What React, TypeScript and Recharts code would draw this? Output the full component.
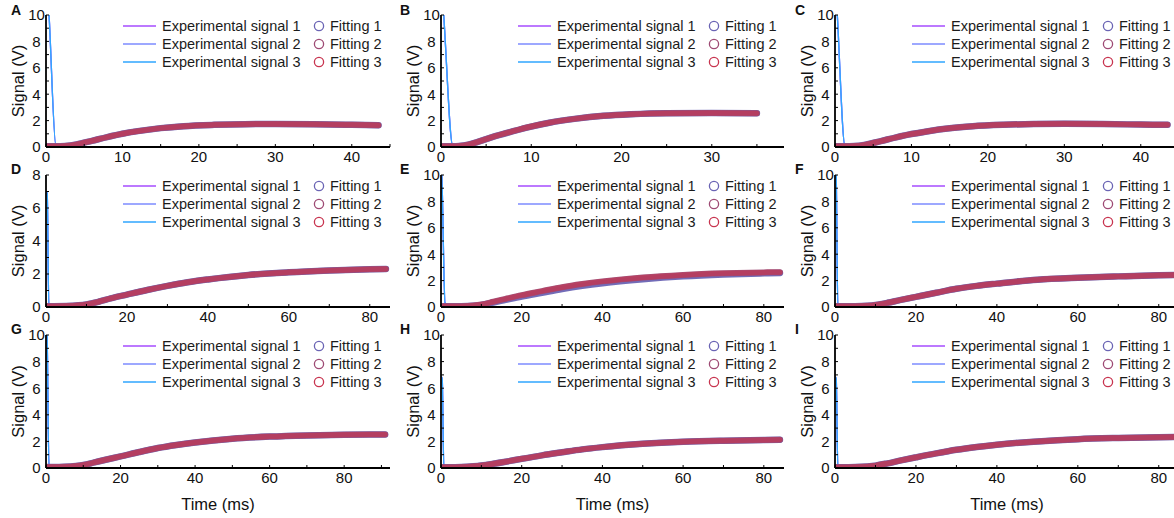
import React from 'react';
import { LineChart, Line, XAxis, YAxis, Legend } from 'recharts';

const FONT = '"Liberation Sans", Arial, Helvetica, sans-serif';

// ---------- data ----------
// Panel A
const timeA = [0, 0.4, 1.3, 2.5, 4, 6, 8, 10, 12, 15, 18, 22, 26, 30, 35, 40, 43.5];
const expA = [14, 10, 0.1, 0.07, 0.2, 0.47, 0.75, 1.0, 1.2, 1.43, 1.58, 1.68, 1.73, 1.74, 1.72, 1.68, 1.65];
const fitA = [0.05, 0.05, 0.05, 0.08, 0.2, 0.47, 0.75, 1.0, 1.2, 1.43, 1.58, 1.68, 1.73, 1.74, 1.72, 1.68, 1.65];
// Panel B
const timeB = [0, 0.3, 1.3, 2, 3, 4, 5, 6, 8, 10, 12, 15, 18, 21, 25, 30, 35];
const expB = [13, 10, 0.1, 0.07, 0.17, 0.37, 0.6, 0.82, 1.2, 1.55, 1.84, 2.15, 2.36, 2.48, 2.56, 2.57, 2.55];
const fitB = [0.05, 0.05, 0.05, 0.07, 0.17, 0.37, 0.6, 0.82, 1.2, 1.55, 1.84, 2.15, 2.36, 2.48, 2.56, 2.57, 2.55];
// Panel C
const timeC = [0, 0.3, 1.3, 2.5, 4, 6, 8, 10, 12, 15, 18, 22, 26, 30, 35, 40, 43.5];
const expC = [13, 10, 0.1, 0.07, 0.18, 0.45, 0.73, 0.98, 1.18, 1.42, 1.57, 1.68, 1.74, 1.76, 1.74, 1.7, 1.68];
const fitC = [0.05, 0.05, 0.05, 0.07, 0.18, 0.45, 0.73, 0.98, 1.18, 1.42, 1.57, 1.68, 1.74, 1.76, 1.74, 1.7, 1.68];
// Panel D
const timeD = [0, 0.3, 0.7, 2, 5, 8, 10, 13, 16, 20, 25, 30, 35, 40, 50, 60, 70, 80, 84];
const expD = [7.0, 6.9, 0.1, 0.05, 0.06, 0.1, 0.16, 0.32, 0.52, 0.75, 1.03, 1.28, 1.5, 1.67, 1.94, 2.1, 2.21, 2.29, 2.31];
const fitD = [0.05, 0.05, 0.05, 0.05, 0.06, 0.1, 0.16, 0.32, 0.52, 0.75, 1.03, 1.28, 1.5, 1.67, 1.94, 2.1, 2.21, 2.29, 2.31];
// Panel E
const timeE = [0, 0.3, 1, 2, 5, 8, 10, 13, 16, 20, 25, 30, 35, 40, 50, 60, 70, 80, 84];
const expE = [12, 9, 0.3, 0.15, 0.07, 0.11, 0.19, 0.4, 0.62, 0.9, 1.2, 1.5, 1.74, 1.94, 2.24, 2.43, 2.55, 2.62, 2.64];
const fitE = [0.05, 0.05, 0.05, 0.05, 0.06, 0.11, 0.19, 0.4, 0.62, 0.9, 1.2, 1.5, 1.74, 1.94, 2.24, 2.43, 2.55, 2.62, 2.64];
const fitLowE = [0.05, 0.05, 0.05, 0.05, 0.06, 0.1, 0.16, 0.34, 0.54, 0.8, 1.08, 1.36, 1.6, 1.8, 2.1, 2.32, 2.46, 2.55, 2.58];
// Panel F
const timeF = [0, 0.3, 0.7, 2, 5, 8, 10, 13, 16, 20, 25, 30, 35, 40, 50, 60, 70, 80, 84];
const expF = [12, 10, 0.1, 0.05, 0.06, 0.1, 0.16, 0.32, 0.52, 0.77, 1.08, 1.38, 1.6, 1.77, 2.07, 2.22, 2.32, 2.4, 2.42];
const fitF = [0.05, 0.05, 0.05, 0.05, 0.06, 0.1, 0.16, 0.32, 0.52, 0.77, 1.08, 1.38, 1.6, 1.77, 2.07, 2.22, 2.32, 2.4, 2.42];
// Panel G
const timeG = [0, 0.3, 0.8, 2, 5, 8, 10, 13, 16, 20, 25, 30, 35, 40, 50, 60, 70, 80, 91];
const expG = [12, 10, 0.1, 0.07, 0.09, 0.15, 0.22, 0.42, 0.62, 0.87, 1.2, 1.5, 1.73, 1.92, 2.2, 2.36, 2.45, 2.5, 2.52];
const fitG = [0.07, 0.07, 0.07, 0.07, 0.09, 0.15, 0.22, 0.42, 0.62, 0.87, 1.2, 1.5, 1.73, 1.92, 2.2, 2.36, 2.45, 2.5, 2.52];
// Panel H
const timeH = [0, 0.3, 0.7, 2, 5, 8, 10, 13, 16, 20, 25, 30, 35, 40, 50, 60, 70, 80, 84];
const expH = [6.9, 6.7, 0.1, 0.05, 0.07, 0.13, 0.19, 0.32, 0.47, 0.69, 0.95, 1.18, 1.4, 1.57, 1.82, 1.97, 2.05, 2.1, 2.12];
const fitH = [0.05, 0.05, 0.05, 0.05, 0.07, 0.13, 0.19, 0.32, 0.47, 0.69, 0.95, 1.18, 1.4, 1.57, 1.82, 1.97, 2.05, 2.1, 2.12];
// Panel I
const timeI = [0, 0.3, 0.7, 2, 5, 8, 10, 13, 16, 20, 25, 30, 35, 40, 50, 60, 70, 80, 84];
const expI = [6.9, 6.7, 0.1, 0.05, 0.07, 0.12, 0.18, 0.35, 0.55, 0.8, 1.1, 1.37, 1.58, 1.75, 2.0, 2.17, 2.26, 2.32, 2.34];
const fitI = [0.05, 0.05, 0.05, 0.05, 0.07, 0.12, 0.18, 0.35, 0.55, 0.8, 1.1, 1.37, 1.58, 1.75, 2.0, 2.17, 2.26, 2.32, 2.34];

// ---------- ticks & labels ----------
const ticksX45 = [0, 5, 10, 15, 20, 25, 30, 35, 40, 45];
const ticksX38 = [0, 5, 10, 15, 20, 25, 30, 35];
const ticksX85 = [0, 10, 20, 30, 40, 50, 60, 70, 80];
const ticksX92 = [0, 10, 20, 30, 40, 50, 60, 70, 80, 90];
const majorX10 = [0, 10, 20, 30, 40];
const majorX20 = [0, 20, 40, 60, 80];
const ticksY10 = [0, 1, 2, 3, 4, 5, 6, 7, 8, 9, 10];
const ticksY8 = [0, 1, 2, 3, 4, 5, 6, 7, 8];
const majorY10 = [0, 2, 4, 6, 8, 10];
const majorY8 = [0, 2, 4, 6, 8];

const expNames = ['Experimental signal 1', 'Experimental signal 2', 'Experimental signal 3'];
const fitNames = ['Fitting 1', 'Fitting 2', 'Fitting 3'];
const panelLetters = ['A', 'B', 'C', 'D', 'E', 'F', 'G', 'H', 'I'];
const yTitle = 'Signal (V)';
const xTitle = 'Time (ms)';

// ---------- styles ----------
const expColors = ['#a64dff', '#7d8bff', '#2fa6ff'];
const fitColors = ['#6a64b4', '#9e4a74', '#c8344f'];

// ---------- layout ----------
const colLeft = [46, 441, 835];
const rowTop = [15, 175, 335];
const plotW = [344, 343, 344];
const plotH = [132, 132, 133];
const letterX = [11, 400, 795];
const letterY = [15, 173.5, 334];
const MT = 12;
const MR = 6;
const YW = 46;

function makeRows(time: number[], e1: number[], e2: number[], e3: number[], f1: number[], f2: number[], f3: number[]) {
  return time.map((t, i) => ({ t, exp1: e1[i], exp2: e2[i], exp3: e3[i], fit1: f1[i], fit2: f2[i], fit3: f3[i] }));
}

const panels = [
  { rows: makeRows(timeA, expA, expA, expA, fitA, fitA, fitA), xMax: 45, xTicks: ticksX45, xMajor: majorX10, yMax: 10, yTicks: ticksY10, yMajor: majorY10 },
  { rows: makeRows(timeB, expB, expB, expB, fitB, fitB, fitB), xMax: 38, xTicks: ticksX38, xMajor: majorX10, yMax: 10, yTicks: ticksY10, yMajor: majorY10 },
  { rows: makeRows(timeC, expC, expC, expC, fitC, fitC, fitC), xMax: 45, xTicks: ticksX45, xMajor: majorX10, yMax: 10, yTicks: ticksY10, yMajor: majorY10 },
  { rows: makeRows(timeD, expD, expD, expD, fitD, fitD, fitD), xMax: 85, xTicks: ticksX85, xMajor: majorX20, yMax: 8, yTicks: ticksY8, yMajor: majorY8 },
  { rows: makeRows(timeE, expE, expE, expE, fitLowE, fitE, fitE), xMax: 85, xTicks: ticksX85, xMajor: majorX20, yMax: 10, yTicks: ticksY10, yMajor: majorY10 },
  { rows: makeRows(timeF, expF, expF, expF, fitF, fitF, fitF), xMax: 85, xTicks: ticksX85, xMajor: majorX20, yMax: 10, yTicks: ticksY10, yMajor: majorY10 },
  { rows: makeRows(timeG, expG, expG, expG, fitG, fitG, fitG), xMax: 92.3, xTicks: ticksX92, xMajor: majorX20, yMax: 10, yTicks: ticksY10, yMajor: majorY10 },
  { rows: makeRows(timeH, expH, expH, expH, fitH, fitH, fitH), xMax: 85, xTicks: ticksX85, xMajor: majorX20, yMax: 10, yTicks: ticksY10, yMajor: majorY10 },
  { rows: makeRows(timeI, expI, expI, expI, fitI, fitI, fitI), xMax: 85, xTicks: ticksX85, xMajor: majorX20, yMax: 10, yTicks: ticksY10, yMajor: majorY10 },
];

function LegendBox(props: any) {
  const payload = props.payload || [];
  const rows = [0, 1, 2];
  return (
    <div style={{ fontFamily: FONT, fontSize: 14.5, color: '#1b1b1b', whiteSpace: 'nowrap' }}>
      {rows.map((i) => {
        const e = payload[i];
        const f = payload[i + 3];
        return (
          <div key={i} style={{ display: 'flex', alignItems: 'center', height: 18 }}>
            <svg width={33} height={18} style={{ display: 'block' }}>
              <line x1={0} x2={33} y1={9} y2={9} stroke={e ? e.color : expColors[i]} strokeWidth={1.5} />
            </svg>
            <span style={{ marginLeft: 6, width: 151, display: 'inline-block' }}>{e ? e.value : expNames[i]}</span>
            <svg width={12} height={18} style={{ display: 'block' }}>
              <circle cx={6} cy={9} r={4.6} fill="none" stroke={f ? f.color : fitColors[i]} strokeWidth={1.3} />
            </svg>
            <span style={{ marginLeft: 5 }}>{f ? f.value : fitNames[i]}</span>
          </div>
        );
      })}
    </div>
  );
}

function Panel({ idx }: { idx: number }) {
  const p = panels[idx];
  const col = idx % 3;
  const row = Math.floor(idx / 3);
  const w = plotW[col];
  const h = plotH[row];
  const xh = row === 2 ? 50 : 25;
  const width = YW + w + MR;
  const height = MT + h + xh;
  const tickStyle = { fontSize: 15, fill: '#111', fontFamily: FONT };
  return (
    <div style={{ position: 'absolute', left: colLeft[col] - YW, top: rowTop[row] - MT, width, height }}>
      <LineChart width={width} height={height} data={p.rows} margin={{ top: MT, right: MR, left: 0, bottom: 0 }}>
        <XAxis
          xAxisId="main"
          dataKey="t"
          type="number"
          domain={[0, p.xMax]}
          allowDataOverflow
          ticks={p.xTicks}
          interval={0}
          tickFormatter={(v: number) => (p.xMajor.includes(v) ? String(v) : '')}
          height={xh}
          tickSize={-3}
          tickMargin={7.6}
          tick={tickStyle}
          axisLine={{ stroke: '#000', strokeWidth: 1.8 }}
          tickLine={{ stroke: '#000', strokeWidth: 1 }}
          label={
            row === 2
              ? () => (
                  <text x={YW + w / 2} y={MT + h + 36} textAnchor="middle" dominantBaseline="central" fontFamily={FONT} fontSize={16.5} fill="#111">
                    {xTitle}
                  </text>
                )
              : undefined
          }
        />
        <XAxis xAxisId="top" orientation="top" type="number" domain={[0, 1]} height={0} tick={false} tickLine={false} axisLine={{ stroke: '#333', strokeWidth: 1.2 }} />
        <YAxis
          yAxisId="main"
          type="number"
          domain={[0, p.yMax]}
          allowDataOverflow
          ticks={p.yTicks}
          interval={0}
          tickFormatter={(v: number) => (p.yMajor.includes(v) ? String(v) : '')}
          width={YW}
          tickSize={-3}
          tickMargin={12.5}
          tick={{ ...tickStyle, textAnchor: 'middle' }}
          axisLine={{ stroke: '#000', strokeWidth: 1.8 }}
          tickLine={{ stroke: '#000', strokeWidth: 1 }}
          label={() => (
            <text
              x={18}
              y={MT + h / 2}
              transform={`rotate(-90, 18, ${MT + h / 2})`}
              textAnchor="middle"
              dominantBaseline="central"
              fontFamily={FONT}
              fontSize={16.5}
              fill="#111"
            >
              {yTitle}
            </text>
          )}
        />
        <YAxis yAxisId="right" orientation="right" type="number" domain={[0, 1]} width={0} tick={false} tickLine={false} axisLine={{ stroke: '#333', strokeWidth: 1.2 }} />
        {[0, 1, 2].map((i) => (
          <Line
            key={'e' + i}
            xAxisId="main"
            yAxisId="main"
            dataKey={'exp' + (i + 1)}
            name={expNames[i]}
            type="monotone"
            stroke={expColors[i]}
            strokeWidth={1.3}
            dot={false}
            legendType="line"
            isAnimationActive={false}
          />
        ))}
        {[0, 1, 2].map((i) => (
          <Line
            key={'f' + i}
            xAxisId="main"
            yAxisId="main"
            dataKey={'fit' + (i + 1)}
            name={fitNames[i]}
            type="monotone"
            stroke={fitColors[i]}
            strokeWidth={i === 0 ? 6.5 : i === 1 ? 6 : 5}
            strokeOpacity={i === 2 ? 0.55 : 0.95}
            strokeLinecap="round"
            dot={false}
            legendType="circle"
            isAnimationActive={false}
          />
        ))}
        <Legend
          layout="horizontal"
          verticalAlign="middle"
          align="center"
          content={(props: any) => <LegendBox {...props} />}
          wrapperStyle={{ top: MT + 2, left: YW + 77, width: 320, height: 54 }}
        />
      </LineChart>
    </div>
  );
}

export default function App() {
  return (
    <div style={{ position: 'absolute', left: 0, top: 0, width: 1174, height: 518, overflow: 'hidden', background: '#fff' }}>
      {panels.map((_, i) => (
        <Panel key={i} idx={i} />
      ))}
      <svg width={1174} height={518} style={{ position: 'absolute', left: 0, top: 0, pointerEvents: 'none' }}>
        {panelLetters.map((l, i) => (
          <text key={l} x={letterX[i % 3]} y={letterY[Math.floor(i / 3)]} fontFamily={FONT} fontWeight="bold" fontSize={14} fill="#111">
            {l}
          </text>
        ))}
      </svg>
    </div>
  );
}
